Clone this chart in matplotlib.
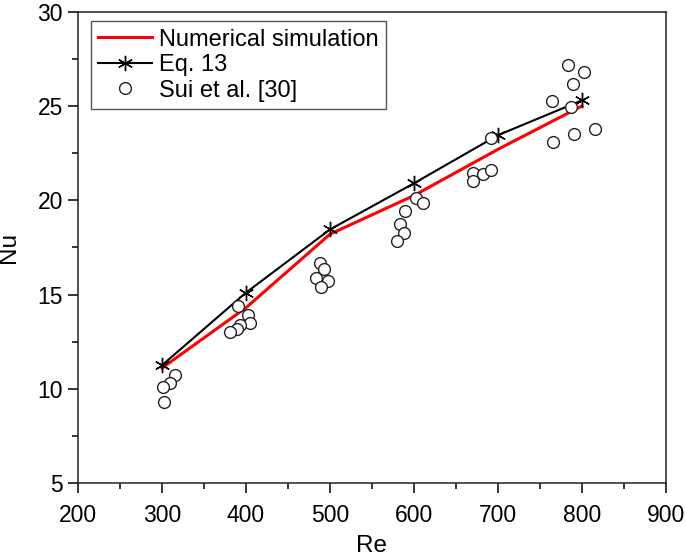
import numpy as np
import matplotlib
matplotlib.use("Agg")
import matplotlib.pyplot as plt
from matplotlib.ticker import MultipleLocator

plt.rcParams['font.family'] = ['Liberation Sans', 'DejaVu Sans']

# Re values used for the two curves
re_values = [300, 400, 500, 600, 700, 800]
nu_simulation = [11.1, 14.3, 18.2, 20.25, 22.7, 25.0]
nu_eq13 = [11.25, 15.1, 18.45, 20.9, 23.45, 25.3]

# Sui et al. [30] experimental points
sui_re = [315, 310, 301.5, 302,
          390, 401.8, 405, 392.6, 388.7, 380.7,
          487.7, 492.5, 483.8, 497.6, 489.8,
          602.7, 611, 589.6, 583.7, 587.6, 579.7,
          670.9, 682, 691.9, 670, 692,
          787, 784, 803, 789, 764, 816, 791, 766]
sui_nu = [10.73, 10.29, 10.11, 9.32,
          14.39, 13.92, 13.51, 13.39, 13.16, 13.0,
          16.66, 16.34, 15.86, 15.69, 15.42,
          20.1, 19.85, 19.44, 18.75, 18.25, 17.86,
          21.44, 21.4, 21.6, 21.0, 23.3,
          24.97, 27.15, 26.83, 26.16, 25.24, 23.77, 23.5, 23.08]

fig = plt.figure(figsize=(6.85, 5.6), dpi=100)
ax = fig.add_axes([0.114, 0.1375, 0.858, 0.8415])

ax.plot(re_values, nu_simulation, color='red', linewidth=2.2, label='Numerical simulation', zorder=3)
ax.plot(re_values, nu_eq13, color='black', linewidth=1.5, marker=(6, 2, 0), markersize=11,
        markeredgewidth=1.0, label='Eq. 13', zorder=4)
ax.plot(sui_re, sui_nu, linestyle='none', marker='o', markersize=8.5, markerfacecolor='white',
        markeredgecolor='#222222', markeredgewidth=1.0, label='Sui et al. [30]', zorder=5)

ax.set_xlim(200, 900)
ax.set_ylim(5, 30)
ax.xaxis.set_major_locator(MultipleLocator(100))
ax.xaxis.set_minor_locator(MultipleLocator(50))
ax.yaxis.set_major_locator(MultipleLocator(5))
ax.yaxis.set_minor_locator(MultipleLocator(2.5))
ax.tick_params(which='major', direction='out', length=7, width=1.1, labelsize=16.5)
ax.tick_params(which='minor', direction='out', length=4, width=1.1)
ax.tick_params(axis='x', which='major', pad=8)
ax.tick_params(axis='y', which='major', pad=4)
ax.tick_params(top=False, right=False)
for s in ax.spines.values():
    s.set_linewidth(1.1)
    s.set_color('#222222')

ax.set_xlabel('Re', fontsize=17.5, labelpad=6)
ax.set_ylabel('Nu', fontsize=17.5)
ax.yaxis.set_label_coords(-0.098, 0.5)

leg = ax.legend(loc='upper left', bbox_to_anchor=(0.0216, 0.9795), borderaxespad=0,
                fontsize=17, handlelength=2.3, handletextpad=0.3, labelspacing=0.15,
                borderpad=0.3, fancybox=False, framealpha=1, edgecolor='#555555')
leg.get_frame().set_linewidth(1.0)

fig.savefig('out.png', dpi=100)
